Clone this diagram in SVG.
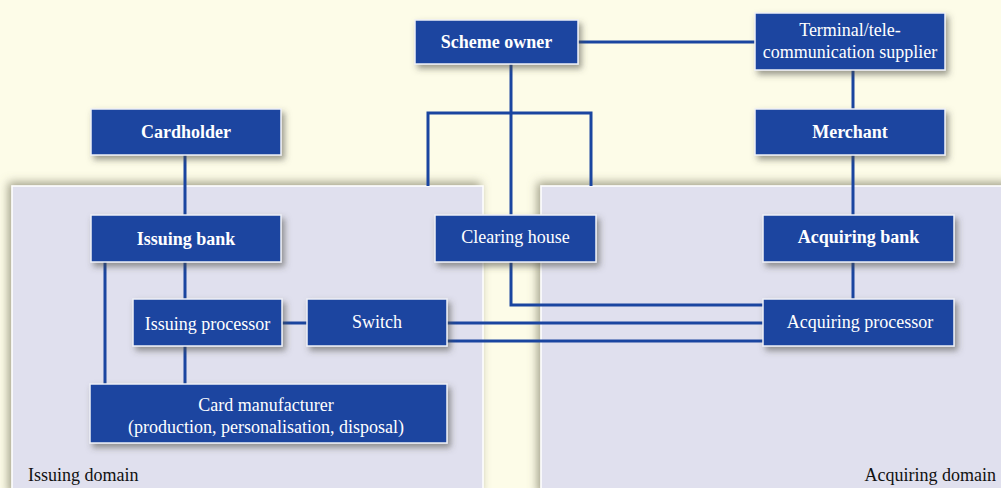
<svg xmlns="http://www.w3.org/2000/svg" width="1001" height="488" viewBox="0 0 1001 488">
<defs>
<filter id="ns" x="-20%" y="-30%" width="140%" height="170%"><feDropShadow dx="3" dy="4" stdDeviation="3" flood-color="#4a4a40" flood-opacity="0.55"/></filter>
<filter id="ps" x="-10%" y="-10%" width="120%" height="120%"><feDropShadow dx="-3" dy="-3" stdDeviation="5" flood-color="#7a7860" flood-opacity="0.7"/></filter>
<style>
.node{fill:#1a45a0;stroke:#eef0f6;stroke-width:1.5;filter:url(#ns)}
.t{font-family:"Liberation Serif","Times New Roman",serif;font-size:18px;fill:#ffffff;text-anchor:middle}
.b{font-weight:bold}
.c{fill:none;stroke:#1a45a0;stroke-width:3}
.panel{fill:#e0e0ee;stroke:#ffffff;stroke-width:1.5;filter:url(#ps)}
.lbl{font-family:"Liberation Serif","Times New Roman",serif;font-size:18px;fill:#111111}
</style>
</defs>
<rect x="0" y="0" width="1001" height="488" fill="#fdfce8"/>
<g id="issuing-domain">
<rect class="panel" x="12" y="186" width="471" height="310"/>
<text class="lbl" x="28" y="481">Issuing domain</text>
</g>
<g id="acquiring-domain">
<rect class="panel" x="541" y="186" width="470" height="310"/>
<text class="lbl" x="996" y="481" text-anchor="end">Acquiring domain</text>
</g>
<g id="connectors">
<path class="c" d="M511 64V215"/>
<path class="c" d="M428 186V113H591V186"/>
<path class="c" d="M578 42H755"/>
<path class="c" d="M853 70V109"/>
<path class="c" d="M853 155V215"/>
<path class="c" d="M853 262V299"/>
<path class="c" d="M185 155V215"/>
<path class="c" d="M185 262V299"/>
<path class="c" d="M185 346V384"/>
<path class="c" d="M105 262V384"/>
<path class="c" d="M282 323H307"/>
<path class="c" d="M447 323H763"/>
<path class="c" d="M447 341H763"/>
<path class="c" d="M511 262V305H763"/>
</g>
<g id="scheme-owner"><rect class="node" x="415" y="20" width="163" height="44"/><text class="t b" x="496.5" y="48">Scheme owner</text></g>
<g id="terminal-supplier"><rect class="node" x="755" y="13" width="190" height="57"/><text class="t" x="850" y="36">Terminal/tele-</text><text class="t" x="850" y="58">communication supplier</text></g>
<g id="cardholder"><rect class="node" x="91" y="109" width="190" height="46"/><text class="t b" x="186" y="138">Cardholder</text></g>
<g id="merchant"><rect class="node" x="755" y="109" width="190" height="46"/><text class="t b" x="850" y="138">Merchant</text></g>
<g id="issuing-bank"><rect class="node" x="91" y="215" width="190" height="47"/><text class="t b" x="186" y="245">Issuing bank</text></g>
<g id="clearing-house"><rect class="node" x="435" y="215" width="161" height="47"/><text class="t" x="515.5" y="243">Clearing house</text></g>
<g id="acquiring-bank"><rect class="node" x="763" y="215" width="191" height="47"/><text class="t b" x="858.5" y="243">Acquiring bank</text></g>
<g id="issuing-processor"><rect class="node" x="133" y="299" width="149" height="47"/><text class="t" x="207.5" y="330">Issuing processor</text></g>
<g id="switch"><rect class="node" x="307" y="299" width="140" height="47"/><text class="t" x="377" y="328">Switch</text></g>
<g id="acquiring-processor"><rect class="node" x="763" y="299" width="191" height="47"/><text class="t" x="860" y="328">Acquiring processor</text></g>
<g id="card-manufacturer"><rect class="node" x="90" y="384" width="357" height="59"/><text class="t" x="266" y="411">Card manufacturer</text><text class="t" x="266" y="433">(production, personalisation, disposal)</text></g>
</svg>
